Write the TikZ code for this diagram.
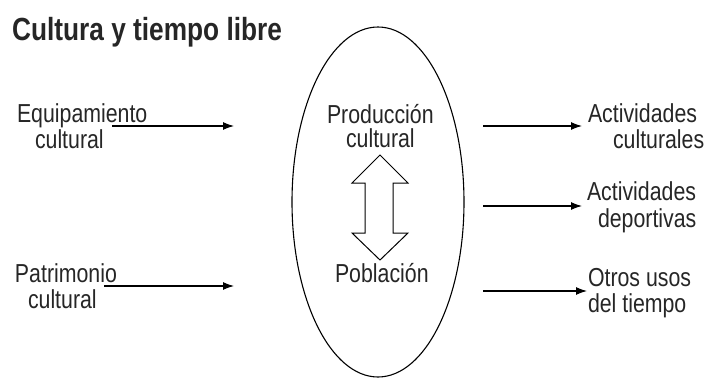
\documentclass[tikz,border=0pt]{standalone}
\usepackage{fontspec}
\setmainfont{Liberation Sans}[FakeStretch=0.82]
\usetikzlibrary{arrows.meta}
\tikzset{
  lbl/.style={anchor=base west, inner sep=0pt, outer sep=0pt, font=\fontsize{26}{28}\selectfont, text=black!85},
  conn/.style={line width=1.1pt, -{Latex[length=11pt,width=8pt]}},
}
\begin{document}
\begin{tikzpicture}[x=1pt,y=-1pt]
\useasboundingbox (0,0) rectangle (710,378);
% title
\node[anchor=base west, inner sep=0pt, font=\fontsize{32}{34}\selectfont\bfseries, text=black!85] (title) at (12,40) {Cultura y tiempo libre};
% ellipse
\draw[line width=1.1pt] (378,202) ellipse [x radius=86, y radius=175];
% left labels
\node[lbl] (eq1) at (17,122) {Equipamiento};
\node[lbl] (eq2) at (35,148) {cultural};
\node[lbl] (pa1) at (15,282) {Patrimonio};
\node[lbl] (pa2) at (28,308) {cultural};
% centre labels
\node[lbl] (pr1) at (327,123) {Producción};
\node[lbl] (pr2) at (346,147) {cultural};
\node[lbl] (po) at (335,282) {Población};
% right labels
\node[lbl] (ac1) at (588,122) {Actividades};
\node[lbl] (ac2) at (613,148) {culturales};
\node[lbl] (ad1) at (587,200) {Actividades};
\node[lbl] (ad2) at (598,227) {deportivas};
\node[lbl] (ot1) at (588,286) {Otros usos};
\node[lbl] (ot2) at (588,312) {del tiempo};
% arrow coordinates
\coordinate (eqs) at (112,126);
\coordinate (eqe) at (234,126);
\coordinate (pas) at (104,286);
\coordinate (pae) at (234,286);
\coordinate (r1s) at (483,126);
\coordinate (r1e) at (582,126);
\coordinate (r2s) at (483,206);
\coordinate (r2e) at (582,206);
\coordinate (r3s) at (483,291);
\coordinate (r3e) at (587,291);
\draw[conn] (eqs) -- (eqe);
\draw[conn] (pas) -- (pae);
\draw[conn] (r1s) -- (r1e);
\draw[conn] (r2s) -- (r2e);
\draw[conn] (r3s) -- (r3e);
% double arrow
\draw[line width=1pt, fill=white] (380,155) -- (352,183) -- (365,183) -- (365,233) -- (352,233) -- (380,260) -- (408,233) -- (393,233) -- (393,183) -- (408,183) -- cycle;
\end{tikzpicture}
\end{document}
